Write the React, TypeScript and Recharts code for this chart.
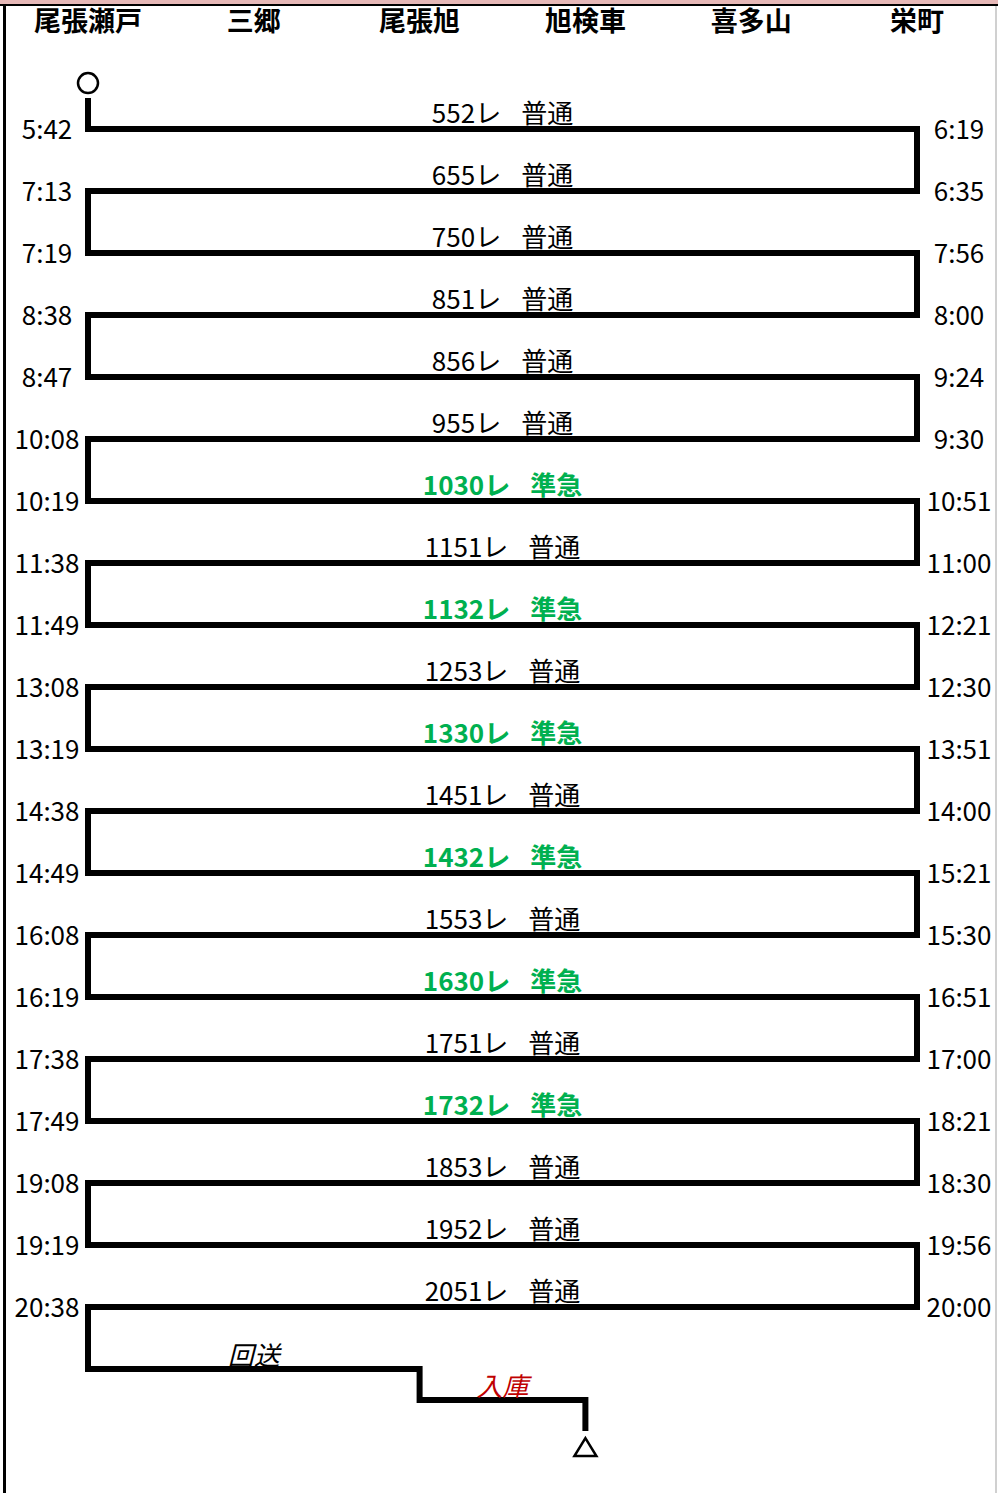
import React from "react";
import { ComposedChart, Line, Scatter, XAxis, YAxis } from "recharts";

const stations = ["尾張瀬戸", "三郷", "尾張旭", "旭検車", "喜多山", "栄町"];

const trainNumbers = [
	"552レ", "655レ", "750レ", "851レ", "856レ", "955レ", "1030レ", "1151レ", "1132レ", "1253レ",
	"1330レ", "1451レ", "1432レ", "1553レ", "1630レ", "1751レ", "1732レ", "1853レ", "1952レ", "2051レ"
];
const trainTypes = [
	"普通", "普通", "普通", "普通", "普通", "普通", "準急", "普通", "準急", "普通",
	"準急", "普通", "準急", "普通", "準急", "普通", "準急", "普通", "普通", "普通"
];
// times at 尾張瀬戸 (left end) and 栄町 (right end), one per trip
const setoTimes = [
	"5:42", "7:13", "7:19", "8:38", "8:47", "10:08", "10:19", "11:38", "11:49", "13:08",
	"13:19", "14:38", "14:49", "16:08", "16:19", "17:38", "17:49", "19:08", "19:19", "20:38"
];
const sakaemachiTimes = [
	"6:19", "6:35", "7:56", "8:00", "9:24", "9:30", "10:51", "11:00", "12:21", "12:30",
	"13:51", "14:00", "15:21", "15:30", "16:51", "17:00", "18:21", "18:30", "19:56", "20:00"
];

const deadheadNames = ["回送", "入庫"];
const deadheadFrom = ["尾張瀬戸", "尾張旭"];
const deadheadTo = ["尾張旭", "旭検車"];
const deadheadRows = [20, 20.5];

const startRow = -0.5;
const endRow = 21;
const startMarkRow = -0.74;
const endMarkRow = 21.26;
const headerRow = -1.74;

const GREEN = "#00B050";
const FONT = "'Noto Sans CJK JP', sans-serif";

const st = (name: string) => stations.indexOf(name);
const last = stations.length - 1;

// the run as one continuous path
const path: { x: number; y: number }[] = [{ x: 0, y: startRow }];
trainNumbers.forEach((_, i) => {
	const from = i % 2 === 0 ? 0 : last;
	path.push({ x: from, y: i }, { x: last - from, y: i });
});
deadheadNames.forEach((_, i) => {
	path.push({ x: st(deadheadFrom[i]), y: deadheadRows[i] }, { x: st(deadheadTo[i]), y: deadheadRows[i] });
});
path.push({ x: st(deadheadTo[deadheadTo.length - 1]), y: endRow });

const headers = stations.map((s, i) => ({ x: i, y: headerRow, s }));
const trainLabels = trainNumbers.map((no, i) => ({ x: last / 2, y: i, no, type: trainTypes[i] }));
const leftTimes = setoTimes.map((t, i) => ({ x: 0, y: i, t }));
const rightTimes = sakaemachiTimes.map((t, i) => ({ x: last, y: i, t }));
const deadheadLabels = deadheadNames.map((n, i) => ({
	x: (st(deadheadFrom[i]) + st(deadheadTo[i])) / 2,
	y: deadheadRows[i],
	n
}));
const startMark = [{ x: 0, y: startMarkRow }];
const endMark = [{ x: st(deadheadTo[deadheadTo.length - 1]), y: endMarkRow }];

const App = () => {
	return (
		<div style={{ position: "absolute", left: 0, top: 0, width: 998, height: 1493, background: "#fff" }}>
			<div style={{ position: "absolute", left: 0, top: 0, width: 998, height: 4, background: "#E6B8B7" }} />
			<div style={{ position: "absolute", left: 0, top: 4, width: 998, height: 2, background: "#000" }} />
			<div style={{ position: "absolute", left: 3, top: 4, width: 3, height: 1489, background: "#000" }} />
			<div style={{ position: "absolute", left: 995, top: 6, width: 2, height: 1487, background: "#d0d0d0" }} />
			<div style={{ position: "absolute", left: 0, top: 0 }}>
				<ComposedChart width={998} height={1493} margin={{ top: 5, right: 81, bottom: 0, left: 88 }}>
					<XAxis type="number" dataKey="x" domain={[0, last]} hide />
					<YAxis type="number" dataKey="y" domain={[-2, 22]} reversed hide />
					<Line
						data={path}
						dataKey="y"
						stroke="#000"
						strokeWidth={6}
						strokeLinejoin="miter"
						dot={false}
						activeDot={false}
						isAnimationActive={false}
					/>
					<Scatter
						data={headers}
						isAnimationActive={false}
						shape={(p: any) => (
							<text x={p.cx} y={p.cy - 2} textAnchor="middle" dominantBaseline="central"
								fontFamily={FONT} fontWeight="bold" fontSize={27} fill="#000">
								{p.payload.s}
							</text>
						)}
					/>
					<Scatter
						data={trainLabels}
						isAnimationActive={false}
						shape={(p: any) => {
							const rapid = p.payload.type === "準急";
							return (
								<text x={p.cx} y={p.cy - 18} textAnchor="middle" dominantBaseline="central"
									fontFamily={FONT} fontSize={26} fontWeight={rapid ? "bold" : "normal"}
									fill={rapid ? GREEN : "#000"}>
									{p.payload.no}
									<tspan dx={20}>{p.payload.type}</tspan>
								</text>
							);
						}}
					/>
					<Scatter
						data={leftTimes}
						isAnimationActive={false}
						shape={(p: any) => (
							<text x={p.cx - 41} y={p.cy - 2} textAnchor="middle" dominantBaseline="central"
								fontFamily={FONT} fontSize={26} fill="#000">
								{p.payload.t}
							</text>
						)}
					/>
					<Scatter
						data={rightTimes}
						isAnimationActive={false}
						shape={(p: any) => (
							<text x={p.cx + 42} y={p.cy - 2} textAnchor="middle" dominantBaseline="central"
								fontFamily={FONT} fontSize={26} fill="#000">
								{p.payload.t}
							</text>
						)}
					/>
					<Scatter
						data={deadheadLabels}
						isAnimationActive={false}
						shape={(p: any) => (
							<text x={p.cx} y={p.cy - 16} textAnchor="middle" dominantBaseline="central"
								fontFamily={FONT} fontSize={26} fontStyle="italic"
								fill={p.payload.n === "入庫" ? "#C00000" : "#000"}>
								{p.payload.n}
							</text>
						)}
					/>
					<Scatter
						data={startMark}
						isAnimationActive={false}
						shape={(p: any) => (
							<circle cx={p.cx} cy={p.cy} r={10} fill="#fff" stroke="#000" strokeWidth={2.5} />
						)}
					/>
					<Scatter
						data={endMark}
						isAnimationActive={false}
						shape={(p: any) => (
							<polygon
								points={`${p.cx},${p.cy - 9} ${p.cx + 11},${p.cy + 9} ${p.cx - 11},${p.cy + 9}`}
								fill="#fff" stroke="#000" strokeWidth={2.5}
							/>
						)}
					/>
				</ComposedChart>
			</div>
		</div>
	);
};

export default App;
